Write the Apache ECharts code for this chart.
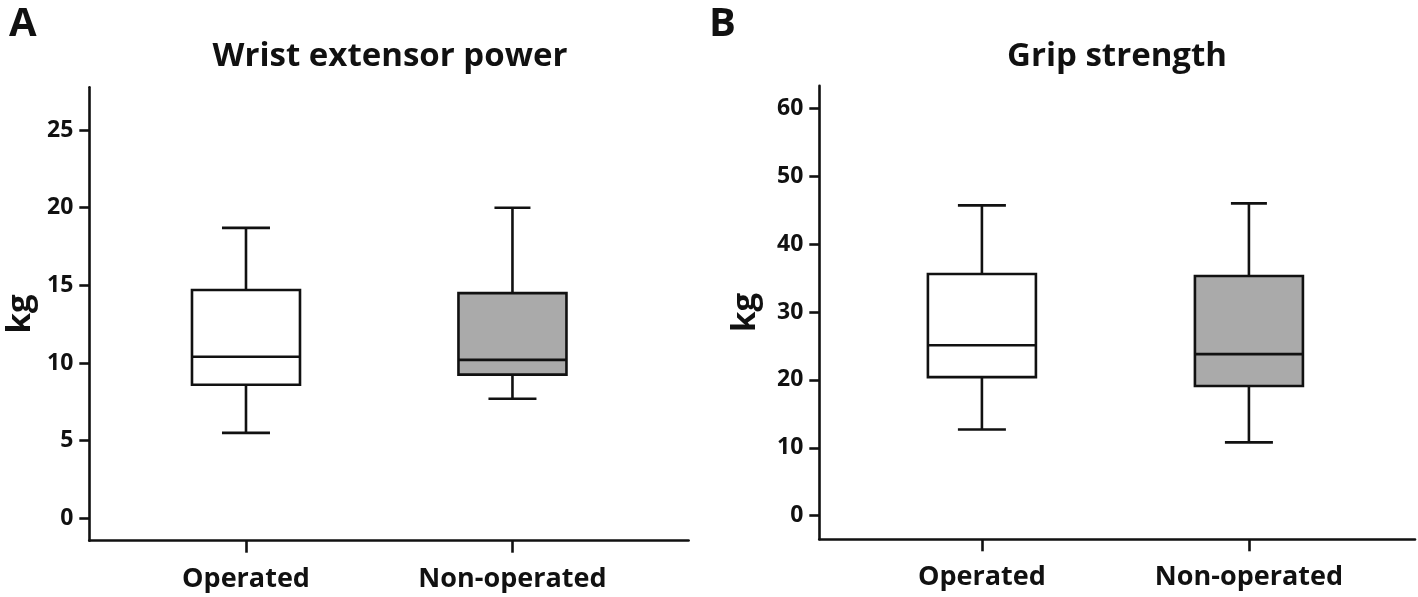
<!DOCTYPE html>
<html>
<head>
<meta charset="utf-8">
<script src="https://cdn.jsdelivr.net/npm/echarts@6/dist/echarts.min.js"></script>
<style>
html,body{margin:0;padding:0;background:#fff;}
#chart{width:1418px;height:597px;}
</style>
</head>
<body>
<div id="chart"></div>
<script>
// ---- data ----
const categories = ['Operated', 'Non-operated'];
const categoryPositions = [1, 2];

const wristMin    = [5.5, 7.7];
const wristQ1     = [8.6, 9.25];
const wristMedian = [10.4, 10.2];
const wristQ3     = [14.7, 14.5];
const wristMax    = [18.7, 20.0];

const gripMin    = [12.7, 10.8];
const gripQ1     = [20.4, 19.1];
const gripMedian = [25.1, 23.8];
const gripQ3     = [35.6, 35.3];
const gripMax    = [45.7, 46.0];

const wristTicks = [0, 5, 10, 15, 20, 25];
const gripTicks  = [0, 10, 20, 30, 40, 50, 60];

const panelTitles = ['Wrist extensor power', 'Grip strength'];
const panelLetters = ['A', 'B'];
const yName = 'kg';

// ---- styles ----
const FONT = '"Open Sans", "Noto Sans", sans-serif';
const INK = '#111';
const boxFills = ['#ffffff', '#aaaaaa'];
const BOX_W = 108;
const CAP_W_UPPER = [48, 36];
const CAP_W_LOWER = [48, 48];
const LW = 2.6;

function buildData(mins, q1s, meds, q3s, maxs) {
  return categoryPositions.map((p, i) => [p, mins[i], q1s[i], meds[i], q3s[i], maxs[i]]);
}

function renderBox(params, api) {
  const i = params.dataIndex;
  const x = api.value(0);
  const lo = api.coord([x, api.value(1)]);
  const q1 = api.coord([x, api.value(2)]);
  const md = api.coord([x, api.value(3)]);
  const q3 = api.coord([x, api.value(4)]);
  const hi = api.coord([x, api.value(5)]);
  const cx = lo[0];
  const hb = BOX_W / 2, cu = CAP_W_UPPER[i] / 2, cl = CAP_W_LOWER[i] / 2;
  const ls = {stroke: INK, lineWidth: LW};
  return {
    type: 'group',
    children: [
      {type: 'line', shape: {x1: cx, y1: hi[1], x2: cx, y2: q3[1]}, style: ls},
      {type: 'line', shape: {x1: cx, y1: q1[1], x2: cx, y2: lo[1]}, style: ls},
      {type: 'line', shape: {x1: cx - cu, y1: hi[1], x2: cx + cu, y2: hi[1]}, style: ls},
      {type: 'line', shape: {x1: cx - cl, y1: lo[1], x2: cx + cl, y2: lo[1]}, style: ls},
      {type: 'rect', shape: {x: cx - hb, y: q3[1], width: 2 * hb, height: q1[1] - q3[1]},
        style: {fill: boxFills[i], stroke: INK, lineWidth: LW}},
      {type: 'line', shape: {x1: cx - hb, y1: md[1], x2: cx + hb, y2: md[1]}, style: ls}
    ]
  };
}

function xAxisCfg(gridIndex, min, max) {
  return {
    type: 'value', gridIndex, min, max,
    splitLine: {show: false},
    axisLine: {show: true, onZero: false, lineStyle: {color: INK, width: LW}},
    axisTick: {show: true, customValues: categoryPositions, length: 12, lineStyle: {color: INK, width: LW}},
    axisLabel: {show: true, customValues: categoryPositions, margin: 25,
      formatter: v => categories[Math.round(v) - 1] || '',
      color: INK, fontFamily: FONT, fontWeight: 'bold', fontSize: 27}
  };
}

function yAxisCfg(gridIndex, min, max, ticks, nameGap) {
  return {
    type: 'value', gridIndex, min, max,
    name: yName, nameLocation: 'middle', nameGap,
    nameTextStyle: {color: INK, fontFamily: FONT, fontWeight: 'bold', fontSize: 33},
    splitLine: {show: false},
    axisLine: {show: true, onZero: false, lineStyle: {color: INK, width: LW}},
    axisTick: {show: true, customValues: ticks, length: 10, lineStyle: {color: INK, width: LW}},
    axisLabel: {show: true, customValues: ticks, margin: 16,
      color: INK, fontFamily: FONT, fontWeight: 'bold', fontSize: 23}
  };
}

const titleStyle = {color: INK, fontFamily: FONT, fontWeight: 'bold', fontSize: 33};
const letterStyle = {color: INK, fontFamily: FONT, fontWeight: 'bold', fontSize: 40};

const option = {
  backgroundColor: '#fff',
  animation: false,
  title: [
    {text: panelTitles[0], left: 390, top: 40, textAlign: 'center', textStyle: titleStyle, padding: 0},
    {text: panelTitles[1], left: 1117, top: 40, textAlign: 'center', textStyle: titleStyle, padding: 0},
    {text: panelLetters[0], left: 9, top: 5, textStyle: letterStyle, padding: 0},
    {text: panelLetters[1], left: 709, top: 5, textStyle: letterStyle, padding: 0}
  ],
  grid: [
    {left: 89.3, top: 87.3, width: 599.3, height: 453.4},
    {left: 819.3, top: 85.7, width: 595.7, height: 453.6}
  ],
  xAxis: [
    xAxisCfg(0, 0.412, 2.661),
    xAxisCfg(1, 0.391, 2.622)
  ],
  yAxis: [
    yAxisCfg(0, -1.44, 27.75, wristTicks, 52),
    yAxisCfg(1, -3.48, 63.33, gripTicks, 57)
  ],
  series: [
    {type: 'custom', xAxisIndex: 0, yAxisIndex: 0, renderItem: renderBox,
      data: buildData(wristMin, wristQ1, wristMedian, wristQ3, wristMax)},
    {type: 'custom', xAxisIndex: 1, yAxisIndex: 1, renderItem: renderBox,
      data: buildData(gripMin, gripQ1, gripMedian, gripQ3, gripMax)}
  ]
};

const chart = echarts.init(document.getElementById('chart'), null, {renderer: 'canvas'});
chart.setOption(option);
</script>
</body>
</html>
